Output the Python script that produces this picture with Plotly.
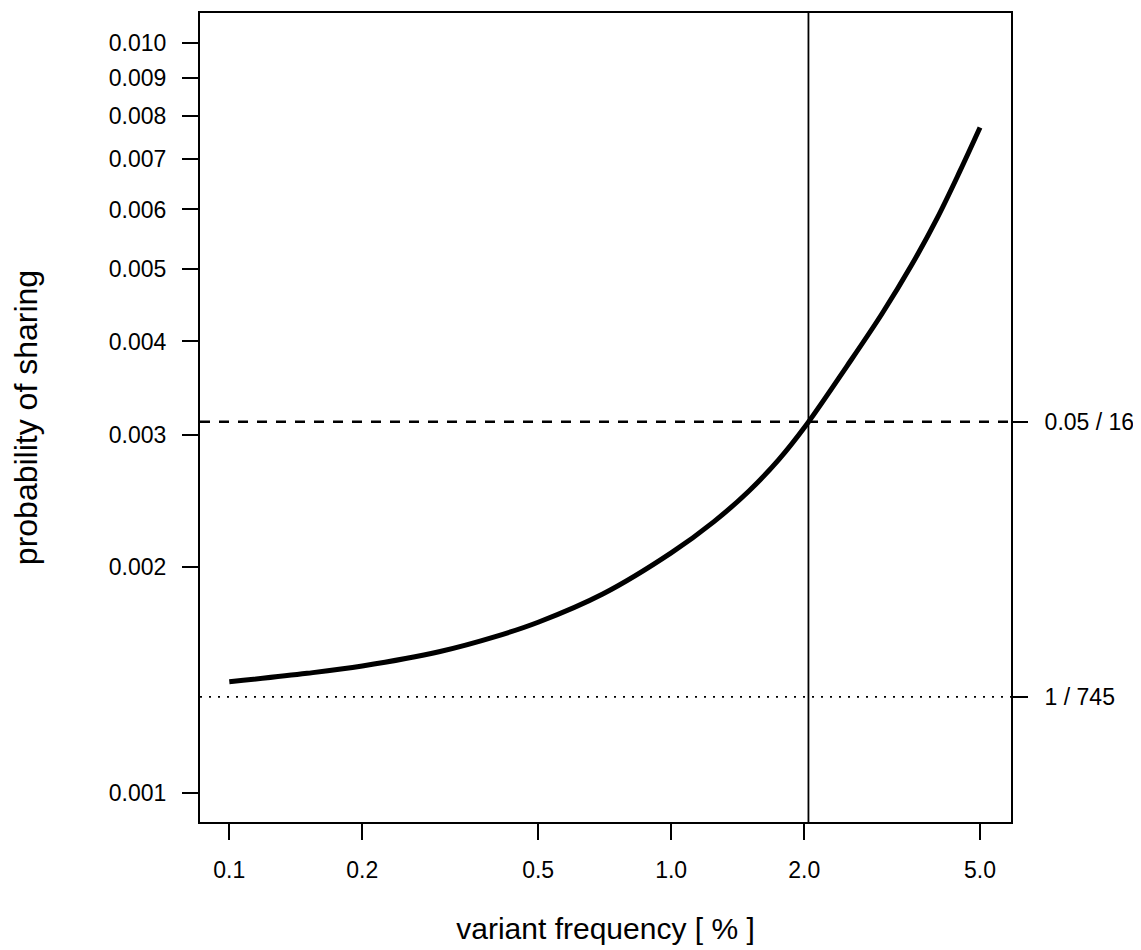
import plotly.graph_objects as go

# Data
freq_pct = [0.1, 0.15, 0.2, 0.3, 0.4, 0.5, 0.7, 1.0, 1.25, 1.5, 1.75, 2.0, 2.5, 3.0, 3.5, 4.0, 4.5, 5.0]
prob_share = [0.001406, 0.001443, 0.001476, 0.001543, 0.001615, 0.001688, 0.001841, 0.002089,
              0.0023, 0.002527, 0.00278, 0.003068, 0.003709, 0.004355, 0.005058, 0.005843,
              0.006744, 0.007718]

x_tick_vals = [0.1, 0.2, 0.5, 1.0, 2.0, 5.0]
x_tick_text = ["0.1", "0.2", "0.5", "1.0", "2.0", "5.0"]
y_tick_vals = [0.001, 0.002, 0.003, 0.004, 0.005, 0.006, 0.007, 0.008, 0.009, 0.010]
y_tick_text = ["0.001", "0.002", "0.003", "0.004", "0.005", "0.006", "0.007", "0.008", "0.009", "0.010"]

bonferroni = 0.05 / 16
baseline = 1 / 745
threshold_labels = ["0.05 / 16", "1 / 745"]
crossing_freq = 2.045

FONT = "Liberation Sans, Arial, sans-serif"

fig = go.Figure()
fig.add_trace(go.Scatter(x=freq_pct, y=prob_share, mode="lines",
                         line=dict(color="black", width=5, shape="spline", smoothing=1.0),
                         showlegend=False, hoverinfo="skip"))
# invisible trace to activate right axis
fig.add_trace(go.Scatter(x=[freq_pct[0]], y=[prob_share[0]], yaxis="y2", mode="markers",
                         marker=dict(opacity=0), showlegend=False, hoverinfo="skip"))

fig.add_hline(y=bonferroni, line=dict(color="black", width=2.5, dash="10px,9px"))
fig.add_hline(y=baseline, line=dict(color="black", width=1.8, dash="2px,7px"))
fig.add_vline(x=crossing_freq, line=dict(color="black", width=1.8))

xr = [-1.0663, 0.7691]
yr = [-3.0391, -1.9597]

axis_common = dict(showgrid=False, zeroline=False, ticks="outside", ticklen=16, tickwidth=2,
                   tickcolor="black", tickfont=dict(family=FONT, size=23, color="black"))

fig.update_layout(
    width=1133, height=942,
    margin=dict(l=192, r=130, t=3, b=128),
    paper_bgcolor="white", plot_bgcolor="white",
    xaxis=dict(type="log", range=xr, tickvals=x_tick_vals, ticktext=x_tick_text,
               showline=True, mirror=True, linecolor="black", linewidth=2,
               ticklabelstandoff=10,
               title=dict(text="variant frequency [ % ]", font=dict(family=FONT, size=30, color="black"),
                          standoff=36),
               **axis_common),
    yaxis=dict(type="log", range=yr, tickvals=y_tick_vals, ticktext=y_tick_text,
               showline=True, mirror=True, linecolor="black", linewidth=2,
               ticklabelstandoff=11,
               title=dict(text="probability of sharing", font=dict(family=FONT, size=32, color="black"),
                          standoff=68),
               **axis_common),
    yaxis2=dict(type="log", range=yr, overlaying="y", side="right", anchor="x",
                tickvals=[bonferroni, baseline], ticktext=threshold_labels,
                showline=False, ticklabelstandoff=12, **axis_common),
)

fig.write_html("out.html")
